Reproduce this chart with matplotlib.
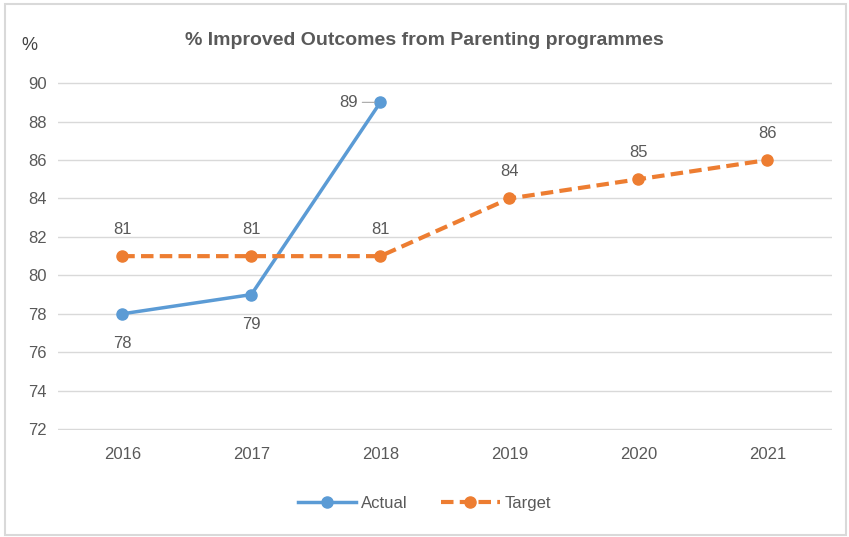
import matplotlib.pyplot as plt
from matplotlib.patches import Rectangle

years = ["2016", "2017", "2018", "2019", "2020", "2021"]
actual = [78, 79, 89]
target = [81, 81, 81, 84, 85, 86]

blue = "#5B9BD5"
orange = "#ED7D31"
grey = "#595959"

plt.rcParams["font.family"] = ["Liberation Sans", "DejaVu Sans"]

fig = plt.figure(figsize=(8.49, 5.37), dpi=100)
ax = fig.add_axes([0.068, 0.199, 0.912, 0.648])

xa = list(range(len(actual)))
xt = list(range(len(target)))
ax.plot(xa, actual, color=blue, lw=2.5, marker="o", ms=8, label="Actual", zorder=3)
ax.plot(xt, target, color=orange, lw=3, ls=(0, (3, 1.5)), marker="o", ms=8,
        label="Target", zorder=3)

# data labels
for i, v in enumerate(actual):
    if i == len(actual) - 1:
        ax.annotate(str(v), (i, v), xytext=(-16, 0), textcoords="offset points",
                    ha="right", va="center", fontsize=12, color=grey,
                    arrowprops=dict(arrowstyle="-", color="#A6A6A6", lw=0.8,
                                    shrinkA=1, shrinkB=4))
    else:
        ax.annotate(str(v), (i, v), xytext=(0, -16), textcoords="offset points",
                    ha="center", va="top", fontsize=12, color=grey)
for i, v in enumerate(target):
    ax.annotate(str(v), (i, v), xytext=(0, 14), textcoords="offset points",
                ha="center", va="bottom", fontsize=12, color=grey)

ax.set_xlim(-0.5, len(years) - 0.5)
ax.set_ylim(71.95, 90.05)
ax.set_yticks(range(72, 91, 2))
ax.set_xticks(xt)
ax.set_xticklabels(years)
ax.tick_params(length=0, labelsize=12, colors=grey, pad=12)
ax.tick_params(axis="y", pad=8)
ax.grid(axis="y", color="#D9D9D9", lw=1)
ax.set_axisbelow(True)
for s in ax.spines.values():
    s.set_visible(False)

fig.text(0.5, 0.925, "% Improved Outcomes from Parenting programmes", ha="center",
         va="center", fontsize=14, fontweight="bold", color=grey)
fig.text(0.035, 0.915, "%", ha="center", va="center", fontsize=13, color="#404040")

fig.legend(loc="center", bbox_to_anchor=(0.5, 0.063), ncol=2, frameon=False,
           fontsize=12, labelcolor=grey, handlelength=3.5, columnspacing=2,
           handletextpad=0.3)

fig.patches.append(Rectangle((0.006, 0.004), 0.991, 0.988, transform=fig.transFigure,
                             fill=False, edgecolor="#D9D9D9", lw=1.5))

fig.savefig("out.png", dpi=100)
